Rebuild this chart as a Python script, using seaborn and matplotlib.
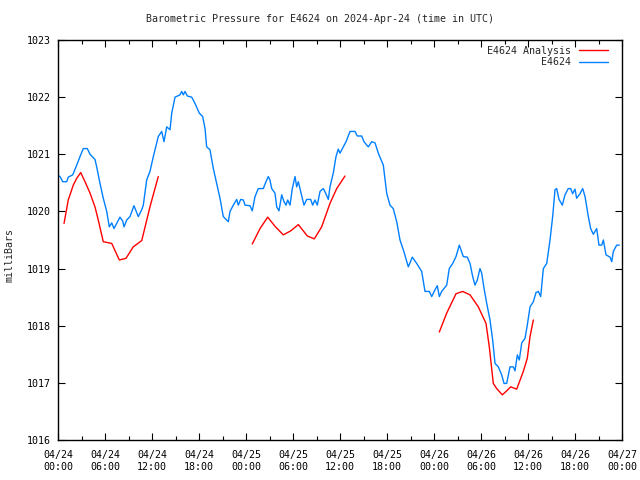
import numpy as np
import pandas as pd
import matplotlib
matplotlib.use("Agg")
import matplotlib.pyplot as plt
import seaborn as sns
from matplotlib.ticker import MultipleLocator
from matplotlib.lines import Line2D

# ---- data (hours since 2024-04-24 00:00 UTC, pressure in mbar) ----
obs_hours = [0.0, 0.26, 0.6, 1.11, 1.31, 1.88, 2.39, 2.81, 3.23, 3.74, 4.09, 4.72, 4.94, 5.36, 5.78,
             6.22, 6.55, 6.86, 7.15, 7.49, 7.91, 8.26, 8.43, 8.77, 9.19, 9.70, 10.25, 10.69, 10.89,
             11.32, 11.74, 12.17, 12.80, 13.24, 13.53, 13.88, 14.30, 14.52, 14.94, 15.57, 15.79,
             16.0, 16.21, 16.51, 17.07, 17.49, 18.04, 18.47, 18.77, 18.98, 19.40, 19.83, 20.26,
             20.68, 21.10, 21.74, 21.96, 22.38, 22.81, 23.02, 23.32, 23.66, 23.87, 24.51, 24.80,
             25.15, 25.57, 26.21, 26.55, 26.85, 27.06, 27.28, 27.70, 27.92, 28.21, 28.56, 28.85,
             29.11, 29.32, 29.62, 29.91, 30.26, 30.47, 30.68, 30.98, 31.40, 31.75, 32.26, 32.51,
             32.81, 33.10, 33.45, 33.87, 34.17, 34.51, 34.72, 35.14, 35.49, 35.78, 36.0, 36.42,
             36.77, 37.28, 37.91, 38.21, 38.77, 39.06, 39.61, 40.05, 40.47, 40.89, 41.53, 41.96,
             42.38, 42.80, 43.24, 43.66, 44.15, 44.72, 45.23, 45.79, 46.43, 46.85, 47.40, 47.71,
             48.13, 48.42, 48.68, 48.98, 49.62, 49.95, 50.39, 50.81, 51.23, 51.74, 52.25, 52.60,
             52.94, 53.23, 53.53, 53.87, 54.09, 54.38, 54.73, 55.15, 55.49, 55.79, 56.21, 56.64,
             56.94, 57.28, 57.70, 58.13, 58.34, 58.64, 58.89, 59.20, 59.62, 59.91, 60.26, 60.68,
             61.02, 61.32, 61.62, 61.96, 62.39, 62.81, 63.15, 63.45, 63.66, 63.96, 64.38, 64.72,
             65.14, 65.45, 65.70, 66.0, 66.21, 66.64, 66.98, 67.28, 67.70, 68.0, 68.34, 68.77,
             69.06, 69.41, 69.62, 69.96, 70.47, 70.69, 70.89, 71.32, 71.66]
obs_mbar = [1020.63, 1020.61, 1020.52, 1020.52, 1020.60, 1020.64, 1020.81, 1020.96, 1021.10, 1021.10,
            1021.00, 1020.91, 1020.78, 1020.49, 1020.23, 1020.00, 1019.73, 1019.80, 1019.70, 1019.79,
            1019.90, 1019.83, 1019.73, 1019.85, 1019.91, 1020.10, 1019.91, 1020.03, 1020.11, 1020.55,
            1020.70, 1020.96, 1021.31, 1021.40, 1021.22, 1021.48, 1021.43, 1021.72, 1022.00, 1022.04,
            1022.10, 1022.04, 1022.10, 1022.02, 1022.00, 1021.89, 1021.72, 1021.66, 1021.45, 1021.13,
            1021.08, 1020.75, 1020.49, 1020.23, 1019.91, 1019.82, 1020.00, 1020.11, 1020.21, 1020.11,
            1020.21, 1020.20, 1020.11, 1020.10, 1020.01, 1020.26, 1020.40, 1020.40, 1020.52, 1020.61,
            1020.55, 1020.40, 1020.32, 1020.08, 1020.01, 1020.29, 1020.17, 1020.11, 1020.20, 1020.11,
            1020.40, 1020.61, 1020.43, 1020.52, 1020.35, 1020.11, 1020.21, 1020.21, 1020.11, 1020.20,
            1020.11, 1020.35, 1020.40, 1020.32, 1020.21, 1020.43, 1020.67, 1020.96, 1021.09, 1021.02,
            1021.13, 1021.22, 1021.40, 1021.40, 1021.32, 1021.32, 1021.22, 1021.13, 1021.22, 1021.20,
            1021.02, 1020.81, 1020.32, 1020.11, 1020.05, 1019.82, 1019.50, 1019.30, 1019.03, 1019.20,
            1019.09, 1018.95, 1018.60, 1018.60, 1018.51, 1018.63, 1018.70, 1018.51, 1018.60, 1018.71,
            1019.00, 1019.09, 1019.21, 1019.41, 1019.21, 1019.20, 1019.09, 1018.86, 1018.71, 1018.80,
            1019.00, 1018.92, 1018.66, 1018.39, 1018.10, 1017.75, 1017.34, 1017.28, 1017.14, 1016.99,
            1016.99, 1017.28, 1017.28, 1017.21, 1017.49, 1017.40, 1017.70, 1017.78, 1018.01, 1018.33,
            1018.42, 1018.58, 1018.60, 1018.51, 1019.00, 1019.09, 1019.50, 1019.91, 1020.38, 1020.40,
            1020.21, 1020.11, 1020.29, 1020.40, 1020.40, 1020.31, 1020.39, 1020.23, 1020.31, 1020.40,
            1020.26, 1019.91, 1019.70, 1019.60, 1019.70, 1019.41, 1019.41, 1019.50, 1019.24, 1019.20,
            1019.12, 1019.30, 1019.41, 1019.41]

ana1_hours = [0.77, 1.31, 1.95, 2.39, 2.90, 3.45, 4.09, 4.72, 5.14, 5.78, 6.86, 7.83, 8.68, 9.61, 10.69, 11.74, 12.80]
ana1_mbar = [1019.79, 1020.20, 1020.46, 1020.58, 1020.68, 1020.52, 1020.32, 1020.08, 1019.85, 1019.47,
             1019.44, 1019.15, 1019.18, 1019.38, 1019.49, 1020.08, 1020.61]
ana2_hours = [24.80, 25.79, 26.77, 27.70, 28.76, 29.71, 30.68, 31.83, 32.72, 33.66, 34.72, 35.58, 36.64]
ana2_mbar = [1019.43, 1019.70, 1019.90, 1019.74, 1019.59, 1019.66, 1019.77, 1019.57, 1019.52, 1019.73,
             1020.14, 1020.40, 1020.62]
ana3_hours = [48.68, 49.62, 50.81, 51.66, 52.60, 53.66, 54.64, 55.06, 55.57, 56.0, 56.72, 57.28, 57.79,
              58.56, 59.40, 59.91, 60.26, 60.68]
ana3_mbar = [1017.89, 1018.22, 1018.56, 1018.60, 1018.54, 1018.33, 1018.04, 1017.63, 1016.99, 1016.90,
             1016.79, 1016.86, 1016.93, 1016.89, 1017.20, 1017.43, 1017.81, 1018.10]

tick_hours = list(range(0, 73, 6))
tick_labels = ["04/24\n00:00", "04/24\n06:00", "04/24\n12:00", "04/24\n18:00",
               "04/25\n00:00", "04/25\n06:00", "04/25\n12:00", "04/25\n18:00",
               "04/26\n00:00", "04/26\n06:00", "04/26\n12:00", "04/26\n18:00",
               "04/27\n00:00"]
y_ticks = [1016, 1017, 1018, 1019, 1020, 1021, 1022, 1023]

title = "Barometric Pressure for E4624 on 2024-Apr-24 (time in UTC)"

# ---- style ----
sns.set_style("ticks")
plt.rcParams["font.family"] = ["DejaVu Sans Mono"]
plt.rcParams["font.size"] = 7.2

RED = "#ff0000"
BLUE = "#0080ff"

fig = plt.figure(figsize=(6.4, 4.8), dpi=100)
ax = fig.add_axes([58 / 640, 40 / 480, 564 / 640, 400 / 480])

obs = pd.DataFrame({"h": obs_hours, "p": obs_mbar})
sns.lineplot(data=obs, x="h", y="p", ax=ax, color=BLUE, lw=1, sort=False, estimator=None)
for hh, pp in [(ana1_hours, ana1_mbar), (ana2_hours, ana2_mbar), (ana3_hours, ana3_mbar)]:
    d = pd.DataFrame({"h": hh, "p": pp})
    sns.lineplot(data=d, x="h", y="p", ax=ax, color=RED, lw=1, sort=False, estimator=None)

ax.set_xlim(0, 72)
ax.set_ylim(1016, 1023)
ax.set_xticks(tick_hours)
ax.set_xticklabels(tick_labels, linespacing=1.25)
ax.xaxis.set_minor_locator(MultipleLocator(3))
ax.set_yticks(y_ticks)
ax.set_yticklabels([str(v) for v in y_ticks])
ax.set_xlabel("")
ax.set_ylabel("")
ax.tick_params(which="both", direction="in", top=True, right=True, colors="black", width=0.8)
ax.tick_params(which="major", length=5)
ax.tick_params(which="minor", length=3)
ax.tick_params(axis="x", which="major", pad=7)
ax.tick_params(axis="y", which="major", pad=5)
for s in ax.spines.values():
    s.set_visible(True)
    s.set_color("black")
    s.set_linewidth(1)

handles = [Line2D([], [], color=RED, lw=1), Line2D([], [], color=BLUE, lw=1)]
ax.legend(handles, ["E4624 Analysis", "E4624"], loc="upper right", frameon=False,
          bbox_to_anchor=(1 - 7 / 564, 1 + 1 / 400),
          markerfirst=False, handlelength=2.9, handletextpad=0.8, borderaxespad=0.3,
          labelspacing=0.15, fontsize=7.2)

fig.text(0.5, 1 - 19 / 480, title, ha="center", va="center", fontsize=7.2)
fig.text(10 / 640, 1 - 255 / 480, "milliBars", ha="center", va="center", rotation=90, fontsize=7.2)

fig.savefig("out.png", dpi=100)
